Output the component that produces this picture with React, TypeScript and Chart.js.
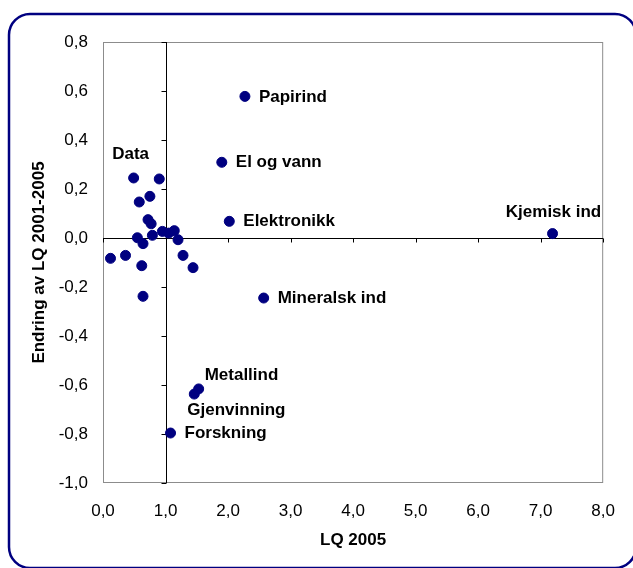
import React, { useEffect, useRef } from 'react';
import { Chart, registerables } from 'chart.js';

Chart.register(...registerables);

// ---- Data ----
const sectorNames: string[] = [
  'Papirind', 'El og vann', 'Elektronikk', 'Kjemisk ind', 'Mineralsk ind',
  'Metallind', 'Gjenvinning', 'Forskning', 'Data',
  '', '', '', '', '', '', '', '', '', '', '', '', '', '', '', '', '', '',
];
const lq2005: number[] = [
  2.27, 1.90, 2.02, 7.19, 2.57,
  1.53, 1.46, 1.08, 0.49,
  0.90, 0.75, 0.58, 0.72, 0.77, 0.95, 1.05, 1.14, 0.79,
  0.55, 0.64, 1.20, 0.12, 0.36, 1.28, 1.44, 0.62, 0.64,
];
const lqChange: number[] = [
  0.578, 0.309, 0.068, 0.018, -0.245,
  -0.616, -0.637, -0.796, 0.245,
  0.241, 0.170, 0.147, 0.075, 0.058, 0.027, 0.020, 0.030, 0.011,
  0.001, -0.023, -0.007, -0.083, -0.071, -0.071, -0.121, -0.113, -0.238,
];
const xMin = 0;
const xMax = 8;
const xStep = 1;
const yMin = -1;
const yMax = 0.8;
const yStep = 0.2;
const crossX = 1; // vertical axis crosses at LQ = 1
const xTitle = 'LQ 2005';
const yTitle = 'Endring av LQ 2001-2005';

// ---- Styles ----
const FONT = "'Liberation Sans', Arial, sans-serif";
const POINT_COLOR = '#000080';
const labelPlacement: Record<string, { dx: number; dy: number; align: CanvasTextAlign }> = {
  'Papirind': { dx: 14, dy: 1, align: 'left' },
  'El og vann': { dx: 14, dy: 0, align: 'left' },
  'Elektronikk': { dx: 14, dy: 0, align: 'left' },
  'Kjemisk ind': { dx: 1, dy: -21, align: 'center' },
  'Mineralsk ind': { dx: 14, dy: 0, align: 'left' },
  'Metallind': { dx: 6, dy: -14, align: 'left' },
  'Gjenvinning': { dx: -7, dy: 16, align: 'left' },
  'Forskning': { dx: 14, dy: 0, align: 'left' },
  'Data': { dx: -3, dy: -24, align: 'center' },
};

const fmt = (v: number | string) => {
  let n = Number(v);
  if (Math.abs(n) < 1e-9) n = 0;
  return n.toFixed(1).replace('.', ',');
};

const overlayPlugin = {
  id: 'overlay',
  beforeDraw(chart: any) {
    const { ctx, width, height } = chart;
    ctx.save();
    ctx.fillStyle = '#ffffff';
    ctx.fillRect(0, 0, width, height);
    // rounded outer frame
    const x0 = 9, y0 = 14, x1 = 636, y1 = 568, r = 21;
    ctx.beginPath();
    ctx.moveTo(x0 + r, y0);
    ctx.lineTo(x1 - r, y0);
    ctx.arcTo(x1, y0, x1, y0 + r, r);
    ctx.lineTo(x1, y1 - r);
    ctx.arcTo(x1, y1, x1 - r, y1, r);
    ctx.lineTo(x0 + r, y1);
    ctx.arcTo(x0, y1, x0, y1 - r, r);
    ctx.lineTo(x0, y0 + r);
    ctx.arcTo(x0, y0, x0 + r, y0, r);
    ctx.closePath();
    ctx.strokeStyle = '#000080';
    ctx.lineWidth = 2.5;
    ctx.stroke();
    ctx.restore();
  },
  beforeDatasetsDraw(chart: any) {
    const { ctx, chartArea: a, scales } = chart;
    const xs = scales.x;
    const ys = scales.y;
    ctx.save();
    ctx.lineWidth = 1;
    ctx.strokeStyle = '#8c8c8c';
    ctx.strokeRect(a.left + 0.5, a.top + 0.5, a.right - a.left - 1, a.bottom - a.top - 1);

    const zy = Math.round(ys.getPixelForValue(0)) + 0.5;
    const cx = Math.round(xs.getPixelForValue(crossX)) + 0.5;
    ctx.strokeStyle = '#000000';
    ctx.beginPath();
    ctx.moveTo(a.left, zy);
    ctx.lineTo(a.right, zy);
    ctx.moveTo(cx, a.top);
    ctx.lineTo(cx, a.bottom);
    xs.ticks.forEach((t: any) => {
      const px = Math.round(xs.getPixelForValue(t.value)) + 0.5;
      ctx.moveTo(px, zy);
      ctx.lineTo(px, zy + 4);
    });
    ys.ticks.forEach((t: any) => {
      const py = Math.round(ys.getPixelForValue(t.value)) + 0.5;
      ctx.moveTo(cx - 5, py);
      ctx.lineTo(cx, py);
    });
    ctx.stroke();
    ctx.restore();
  },
  afterDatasetsDraw(chart: any) {
    const { ctx } = chart;
    const meta = chart.getDatasetMeta(0);
    ctx.save();
    ctx.font = `bold 17px ${FONT}`;
    ctx.fillStyle = '#000000';
    ctx.textBaseline = 'middle';
    sectorNames.forEach((name, i) => {
      if (!name) return;
      const el = meta.data[i];
      const p = labelPlacement[name] || { dx: 14, dy: 0, align: 'left' as CanvasTextAlign };
      ctx.textAlign = p.align;
      ctx.fillText(name, el.x + p.dx, el.y + p.dy);
    });
    ctx.restore();
  },
};

export default function App() {
  const canvasRef = useRef<HTMLCanvasElement | null>(null);

  useEffect(() => {
    const canvas = canvasRef.current;
    if (!canvas) return;
    const points = lq2005.map((x, i) => ({ x, y: lqChange[i] }));
    const chart = new Chart(canvas, {
      type: 'scatter',
      data: {
        datasets: [
          {
            data: points,
            backgroundColor: POINT_COLOR,
            borderColor: POINT_COLOR,
            borderWidth: 1,
            pointRadius: 5,
            pointHoverRadius: 5,
          },
        ],
      },
      options: {
        animation: false,
        responsive: false,
        maintainAspectRatio: false,
        events: [],
        layout: { padding: { left: 0, top: 42, right: 22, bottom: 0 } },
        plugins: {
          legend: { display: false },
          tooltip: { enabled: false },
        },
        scales: {
          x: {
            type: 'linear',
            min: xMin,
            max: xMax,
            grid: { display: false, drawTicks: false },
            border: { display: false },
            ticks: {
              stepSize: xStep,
              padding: 18,
              color: '#000000',
              font: { family: FONT, size: 17 },
              callback: (v: any) => fmt(v),
            },
            title: {
              display: true,
              text: xTitle,
              color: '#000000',
              font: { family: FONT, size: 17, weight: 'bold' },
              padding: { top: 0, bottom: 17 },
            },
            afterFit: (scale: any) => {
              scale.height = 85;
            },
          },
          y: {
            type: 'linear',
            min: yMin,
            max: yMax,
            grid: { display: false, drawTicks: false },
            border: { display: false },
            ticks: {
              stepSize: yStep,
              padding: 15,
              color: '#000000',
              font: { family: FONT, size: 17 },
              callback: (v: any) => fmt(v),
            },
            title: {
              display: true,
              text: yTitle,
              color: '#000000',
              font: { family: FONT, size: 17, weight: 'bold' },
              padding: { top: 29, bottom: 0 },
            },
            afterFit: (scale: any) => {
              scale.width = 103;
            },
          },
        },
      },
      plugins: [overlayPlugin],
    });
    return () => chart.destroy();
  }, []);

  return (
    <div style={{ position: 'absolute', left: 0, top: 0, width: 633, height: 568, background: '#fff' }}>
      <canvas ref={canvasRef} width={633} height={568} style={{ display: 'block' }} />
    </div>
  );
}
